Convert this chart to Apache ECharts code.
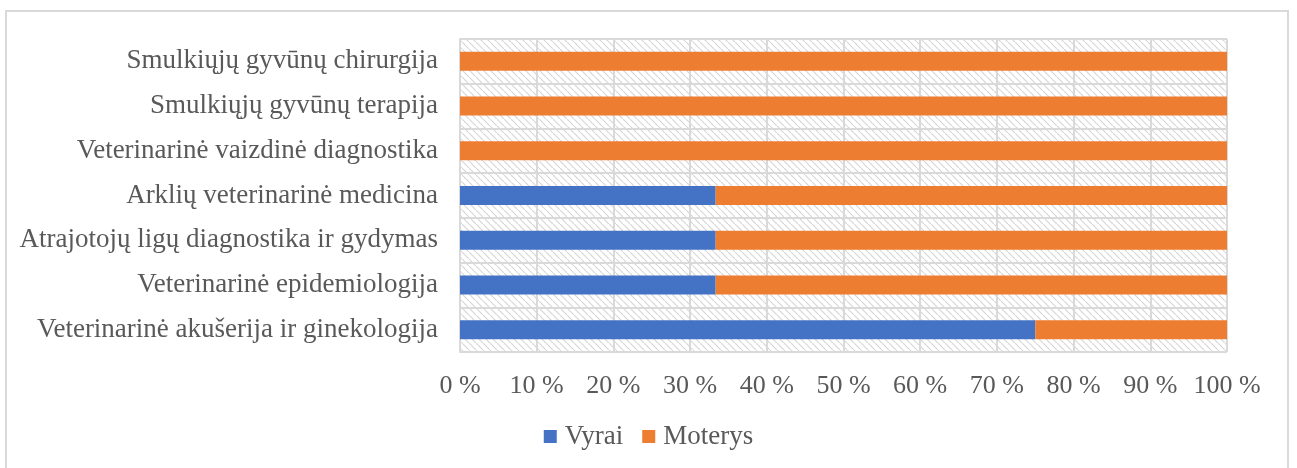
<!DOCTYPE html>
<html>
<head>
<meta charset="utf-8">
<script src="https://cdn.jsdelivr.net/npm/echarts@6/dist/echarts.min.js"></script>
<style>
  html, body { margin: 0; padding: 0; background: #fff; }
  #frame { position: absolute; left: 5px; top: 10px; width: 1284px; height: 470px; border: 2px solid #d9d9d9; box-sizing: border-box; }
  #chart { position: absolute; left: 0; top: 0; width: 1297px; height: 468px; }
</style>
</head>
<body>
<div id="frame"></div>
<div id="chart"></div>
<script>
// kategorijos (iš apačios į viršų)
var categories = [
  'Veterinarinė akušerija ir ginekologija',
  'Veterinarinė epidemiologija',
  'Atrajotojų ligų diagnostika ir gydymas',
  'Arklių veterinarinė medicina',
  'Veterinarinė vaizdinė diagnostika',
  'Smulkiųjų gyvūnų terapija',
  'Smulkiųjų gyvūnų chirurgija'
];
var vyrai = [75, 33.33, 33.33, 33.33, 0, 0, 0];
var moterys = [25, 66.67, 66.67, 66.67, 100, 100, 100];
var seriesNames = ['Vyrai', 'Moterys'];

var font = "'Liberation Serif', 'Times New Roman', serif";

// hatch pattern for the plot background
var hatch = document.createElement('canvas');
hatch.width = 7;
hatch.height = 7;
var hc = hatch.getContext('2d');
hc.fillStyle = '#ffffff';
hc.fillRect(0, 0, 7, 7);
hc.strokeStyle = '#d6d6d6';
hc.lineWidth = 1.2;
hc.beginPath();
hc.moveTo(-1, -1);
hc.lineTo(8, 8);
hc.stroke();

var myChart = echarts.init(document.getElementById('chart'));
var option = {
  backgroundColor: 'transparent',
  animation: false,
  grid: {
    left: 460,
    right: 70,
    top: 39,
    bottom: 116,
    show: true,
    borderWidth: 0,
    backgroundColor: { image: hatch, repeat: 'repeat' }
  },
  legend: {
    bottom: 13,
    left: 'center',
    itemWidth: 13,
    itemHeight: 13,
    itemGap: 19,
    icon: 'rect',
    textStyle: { fontFamily: font, fontSize: 27, color: '#595959', padding: [0, 0, 0, 3] },
    data: seriesNames
  },
  xAxis: {
    type: 'value',
    min: 0,
    max: 100,
    interval: 10,
    axisLine: { show: false },
    axisTick: { show: false },
    axisLabel: {
      margin: 21,
      fontFamily: font,
      fontSize: 26,
      color: '#595959',
      formatter: '{value} %'
    },
    splitLine: { show: true, lineStyle: { color: '#d9d9d9', width: 2 } }
  },
  yAxis: {
    type: 'category',
    data: categories,
    axisLine: { show: true, lineStyle: { color: '#d9d9d9', width: 2 } },
    axisTick: { show: false },
    axisLabel: {
      margin: 22,
      fontFamily: font,
      fontSize: 27,
      color: '#595959'
    },
    splitLine: { show: true, lineStyle: { color: '#d9d9d9', width: 2 } }
  },
  series: [{
    name: seriesNames[0],
    type: 'bar',
    stack: 'total',
    barWidth: 19,
    itemStyle: { color: '#4472C4' },
    data: vyrai
  }, {
    name: seriesNames[1],
    type: 'bar',
    stack: 'total',
    barWidth: 19,
    itemStyle: { color: '#ED7D31' },
    data: moterys
  }]
};
myChart.setOption(option);
</script>
</body>
</html>
